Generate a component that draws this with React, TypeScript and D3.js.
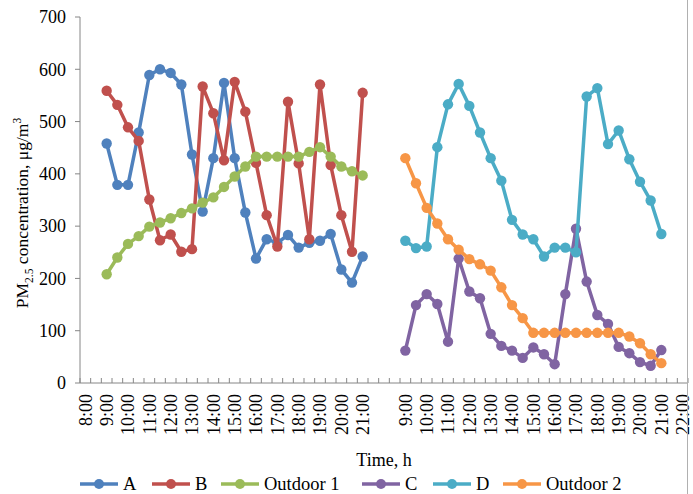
import React from "react";
import * as d3 from "d3";

// ---- Data ----
const leftTimes = ["8:00","8:30","9:00","9:30","10:00","10:30","11:00","11:30","12:00","12:30","13:00","13:30","14:00","14:30","15:00","15:30","16:00","16:30","17:00","17:30","18:00","18:30","19:00","19:30","20:00","20:30","21:00","21:30"];
const gapSlots = ["", ""];
const rightTimes = ["9:00","9:30","10:00","10:30","11:00","11:30","12:00","12:30","13:00","13:30","14:00","14:30","15:00","15:30","16:00","16:30","17:00","17:30","18:00","18:30","19:00","19:30","20:00","20:30","21:00","21:30","22:00"];
const categories = [...leftTimes, ...gapSlots, ...rightTimes];

const seriesA = [458,379,379,479,589,600,593,571,437,328,430,574,430,326,238,275,268,283,259,268,272,285,217,192,242];
const seriesB = [559,532,489,463,351,273,284,251,256,567,516,426,576,519,421,321,261,538,420,275,571,417,321,251,555];
const seriesOutdoor1 = [208,240,266,281,299,307,315,325,334,345,355,375,395,414,433,433,433,433,433,442,451,433,414,405,397];
const seriesC = [62,149,170,151,79,238,175,162,94,71,62,48,68,55,36,170,295,194,130,113,69,57,40,33,63];
const seriesD = [272,258,261,451,533,572,530,479,430,387,312,284,275,242,259,259,250,548,564,457,483,428,385,349,285];
const seriesOutdoor2 = [430,382,335,305,275,255,237,227,215,183,149,124,96,96,96,96,96,96,96,96,96,89,76,55,38];

const yTicks = [0,100,200,300,400,500,600,700];

const leftStart = leftTimes.indexOf("9:00");
const rightStart = leftTimes.length + gapSlots.length + rightTimes.indexOf("9:00");

const series = [
  { name: "A", values: seriesA, start: leftStart, color: "#4F81BD" },
  { name: "B", values: seriesB, start: leftStart, color: "#C0504D" },
  { name: "Outdoor 1", values: seriesOutdoor1, start: leftStart, color: "#9BBB59" },
  { name: "C", values: seriesC, start: rightStart, color: "#8064A2" },
  { name: "D", values: seriesD, start: rightStart, color: "#4BACC6" },
  { name: "Outdoor 2", values: seriesOutdoor2, start: rightStart, color: "#F79646" },
];

// legend entry left edges (layout)
const legendX = [80, 152, 221, 362, 433, 503];

const W = 693, H = 494;
const FONT = "'Liberation Serif', 'Times New Roman', serif";

export default function App() {
  const plot = { left: 80, right: 688, top: 17, bottom: 383 };
  const x = d3.scaleBand<number>().domain(d3.range(categories.length)).range([plot.left, plot.right]).padding(0);
  const bw = x.bandwidth();
  const cx = (i: number) => (x(i) as number) + bw / 2;
  const y = d3.scaleLinear().domain([0, 700]).range([plot.bottom, plot.top]);
  const line = d3.line<[number, number]>().x(d => cx(d[0])).y(d => y(d[1]));

  const sampleW = 38;
  const axisColor = "#868686";

  return (
    <svg width={W} height={H} style={{ position: "absolute", left: 0, top: 0, background: "#fff" }} fontFamily={FONT}>
      <rect x={0} y={0} width={W} height={H} fill="#fff" />
      {/* y axis */}
      <line x1={plot.left} x2={plot.left} y1={plot.top} y2={plot.bottom} stroke={axisColor} strokeWidth={1} />
      {yTicks.map(t => (
        <g key={t}>
          <line x1={plot.left - 5} x2={plot.left} y1={y(t)} y2={y(t)} stroke={axisColor} />
          <text x={plot.left - 14} y={y(t)} dy="0.35em" textAnchor="end" fontSize={18} fill="#000">{t}</text>
        </g>
      ))}
      {/* x axis */}
      <line x1={plot.left} x2={plot.right} y1={plot.bottom} y2={plot.bottom} stroke={axisColor} strokeWidth={1} />
      {d3.range(categories.length + 1).map(k => {
        const xx = plot.left + k * bw;
        return <line key={k} x1={xx} x2={xx} y1={plot.bottom - 5} y2={plot.bottom} stroke={axisColor} />;
      })}
      {categories.map((c, i) => (i % 2 === 0 && c ? (
        <text key={i} transform={`translate(${cx(i)},${plot.bottom + 11}) rotate(-90)`} dy="0.35em" textAnchor="end" fontSize={18} fill="#000">{c}</text>
      ) : null))}
      {/* right border */}
      <line x1={687.5} x2={687.5} y1={0} y2={H} stroke="#b0b0b0" strokeWidth={1} />
      {/* axis titles */}
      <text x={(plot.left + plot.right) / 2} y={466} textAnchor="middle" fontSize={18} fill="#000">Time, h</text>
      <text transform={`translate(28,213) rotate(-90)`} textAnchor="middle" fontSize={17.5} fill="#000">
        PM<tspan fontSize={11.5} dy={5}>2.5</tspan><tspan dy={-5}> concentration, μg/m</tspan><tspan fontSize={11.5} dy={-7}>3</tspan>
      </text>
      {/* series */}
      {series.map(s => {
        const pts: [number, number][] = s.values.map((v, k) => [s.start + k, v]);
        return (
          <g key={s.name}>
            <path d={line(pts) || ""} fill="none" stroke={s.color} strokeWidth={3.5} strokeLinejoin="round" />
            {pts.map((p, k) => <circle key={k} cx={cx(p[0])} cy={y(p[1])} r={5.2} fill={s.color} />)}
          </g>
        );
      })}
      {/* legend */}
      {series.map((s, i) => (
        <g key={s.name}>
          <line x1={legendX[i]} x2={legendX[i] + sampleW} y1={484} y2={484} stroke={s.color} strokeWidth={3.5} />
          <circle cx={legendX[i] + sampleW / 2} cy={484} r={5} fill={s.color} />
          <text x={legendX[i] + sampleW + 5} y={484} dy="0.35em" fontSize={18.5} fill="#000">{s.name}</text>
        </g>
      ))}
    </svg>
  );
}
